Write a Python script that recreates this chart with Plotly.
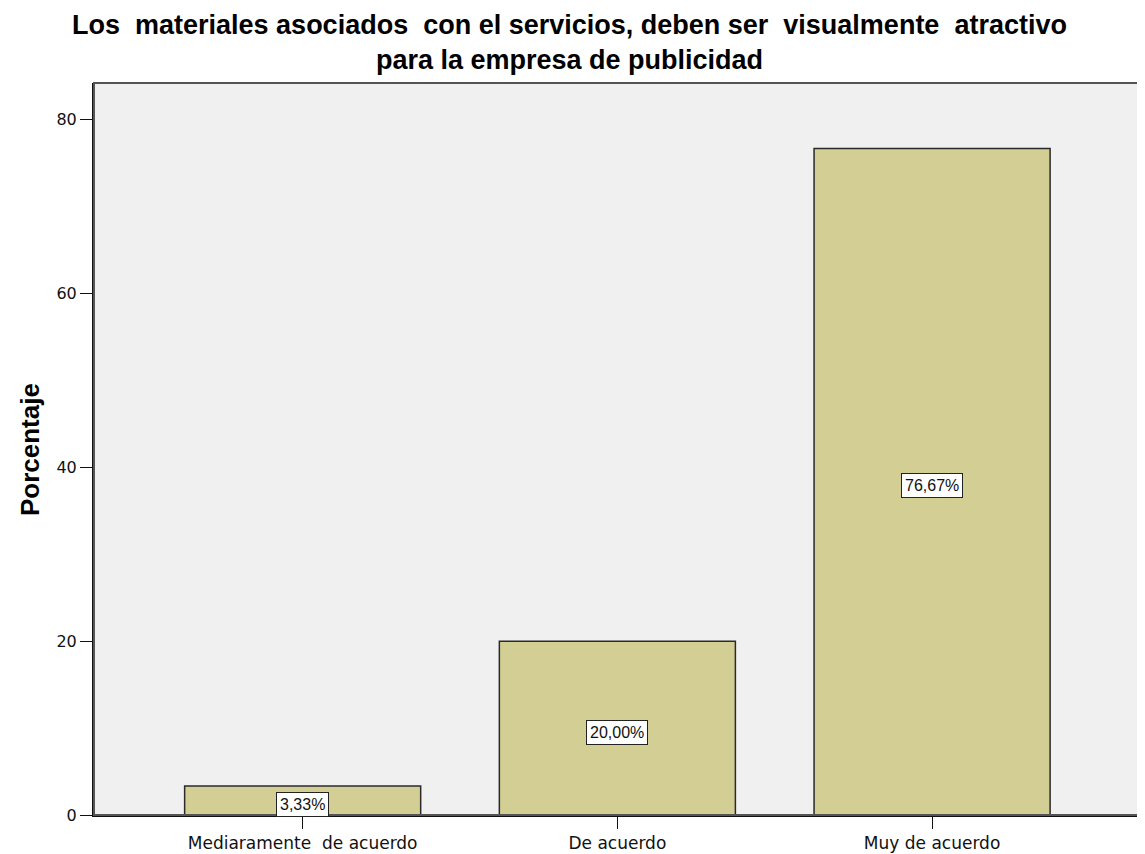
import plotly.graph_objects as go

categorias = ["Mediaramente  de acuerdo", "De acuerdo", "Muy de acuerdo"]
porcentajes = [3.33, 20.00, 76.67]
etiquetas = ["3,33%", "20,00%", "76,67%"]
y_ticks = [0, 20, 40, 60, 80]
titulo = ["Los  materiales asociados  con el servicios, deben ser  visualmente  atractivo",
          "para la empresa de publicidad"]

BAR_COLOR = "#d3cf94"
BG_PLOT = "#f0f0f0"
TXT = "#111111"

fig = go.Figure()
fig.add_trace(go.Bar(
    x=categorias,
    y=porcentajes,
    width=0.75,
    marker=dict(color=BAR_COLOR, line=dict(color="#2a2a2a", width=1.5)),
    hoverinfo="skip",
))

# etiquetas en recuadro blanco, a media altura de la barra
for cat, val, txt in zip(categorias, porcentajes, etiquetas):
    fig.add_annotation(
        x=cat, y=val / 2, text=txt, showarrow=False, yshift=-4,
        font=dict(family="Liberation Sans, Arial", size=16, color=TXT),
        bgcolor="white", bordercolor="#222222", borderwidth=1, borderpad=3,
    )

# título en dos líneas
fig.add_annotation(
    xref="paper", yref="paper", x=0.454, y=1.0553,
    xanchor="center", yanchor="middle", showarrow=False,
    text="<b>" + "<br>".join(titulo) + "</b>",
    font=dict(family="Liberation Sans, Arial", size=27, color="#000000"),
)

# título del eje Y
fig.add_annotation(
    xref="paper", yref="paper", x=-0.061, y=0.4986,
    xanchor="center", yanchor="middle", showarrow=False, textangle=-90,
    text="<b>Porcentaje</b>",
    font=dict(family="Liberation Sans, Arial", size=26, color="#000000"),
)

fig.update_layout(
    width=1137, height=846,
    paper_bgcolor="white",
    plot_bgcolor=BG_PLOT,
    margin=dict(l=86, r=3, t=75, b=39),
    showlegend=False,
    font=dict(family="DejaVu Sans", size=16, color=TXT),
)
fig.update_xaxes(
    range=[-0.663, 2.667],
    automargin=False,
    showline=True, linecolor=TXT, linewidth=2,
    ticks="outside", ticklen=12, tickcolor=TXT,
    tickfont=dict(family="DejaVu Sans", size=17, color=TXT),
    showgrid=False,
)
fig.update_yaxes(
    range=[0, 84.2],
    automargin=False,
    tickvals=y_ticks,
    showline=True, linecolor=TXT, linewidth=2,
    ticks="outside", ticklen=12, tickcolor=TXT,
    tickfont=dict(family="DejaVu Sans", size=16, color=TXT),
    showgrid=False, zeroline=False,
)
# borde superior y derecho del área de gráfico
fig.add_shape(type="rect", xref="paper", yref="paper", x0=0, y0=0, x1=1, y1=1,
              line=dict(color="#555555", width=2), layer="above")

fig.write_html("out.html")
